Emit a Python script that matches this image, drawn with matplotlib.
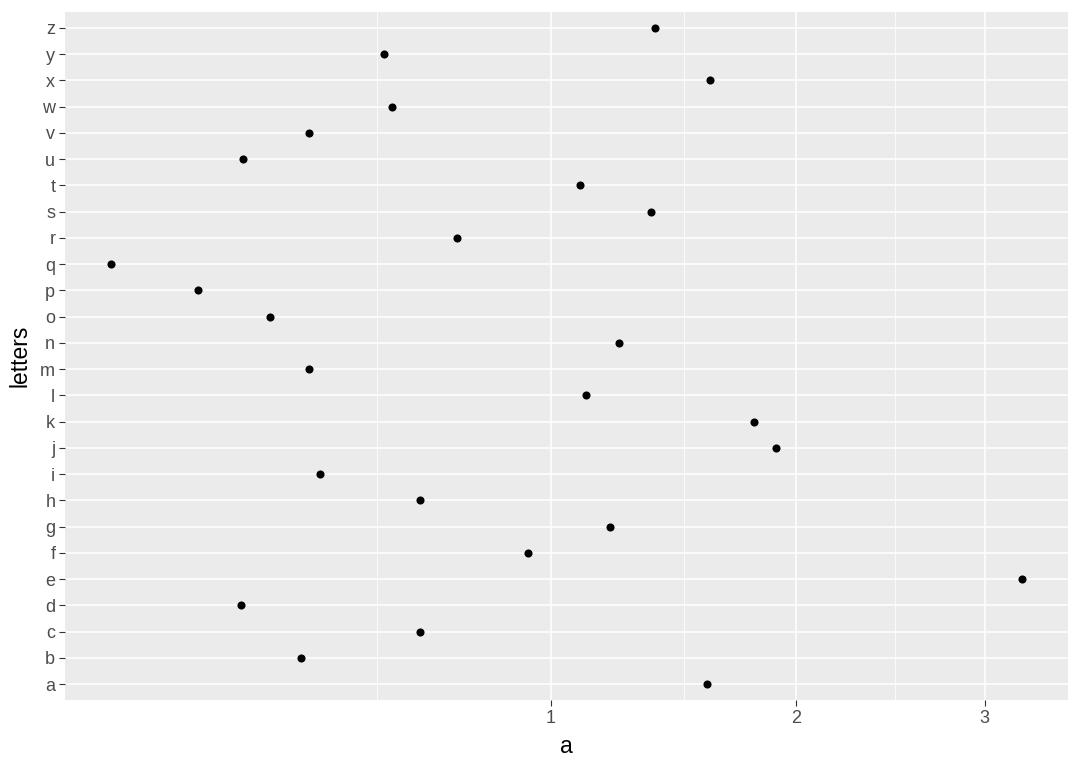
import numpy as np
import matplotlib
matplotlib.use("Agg")
import matplotlib.pyplot as plt

plt.rcParams["font.family"] = ["Liberation Sans", "DejaVu Sans"]

letters = list("abcdefghijklmnopqrstuvwxyz")
values = [1.597, 0.334, 0.606, 0.227, 3.224, 0.924, 1.209, 0.606, 0.372, 1.905,
          1.803, 1.122, 0.3495, 1.243, 0.276, 0.164, 0.066, 0.708, 1.366, 1.100,
          0.230, 0.3495, 0.535, 1.609, 0.515, 1.382]
x_major = [1, 2, 3]
x_minor = [0.5, 1.5, 2.5]

fig = plt.figure(figsize=(10.8, 7.71), dpi=100)
fig.patch.set_facecolor("white")
ax = fig.add_axes([65/1080, 1-700/771, (1068-65)/1080, (700-12)/771])
ax.set_facecolor("#EBEBEB")

ax.set_xscale("function", functions=(lambda v: np.sqrt(np.clip(v, 0, None)), lambda v: np.square(v)))
ypos = np.arange(len(letters))
ax.scatter(values, ypos, s=34, color="black", zorder=3, linewidths=0)

sv = np.sqrt(values)
rng = sv.max() - sv.min()
ax.set_xlim((sv.min() - 0.05*rng)**2, (sv.max() + 0.05*rng)**2)
ax.set_ylim(-0.6, len(letters) - 1 + 0.6)

ax.set_xticks(x_major)
ax.set_xticklabels([str(v) for v in x_major])
ax.set_xticks(x_minor, minor=True)
ax.set_yticks(ypos)
ax.set_yticklabels(letters)

ax.grid(which="major", color="white", linewidth=1.1, zorder=1)
ax.grid(which="minor", axis="x", color="white", linewidth=0.55, zorder=1)
ax.set_axisbelow(True)
for s in ax.spines.values():
    s.set_visible(False)

ax.tick_params(which="major", length=4, width=0.8, color="#333333", labelcolor="#4D4D4D", labelsize=13, pad=3)
ax.tick_params(which="minor", length=0)

ax.set_xlabel("a", fontsize=16.5, color="black", labelpad=6)
ax.set_ylabel("letters", fontsize=16.5, color="black", labelpad=6)

fig.savefig("out.png", dpi=100)
